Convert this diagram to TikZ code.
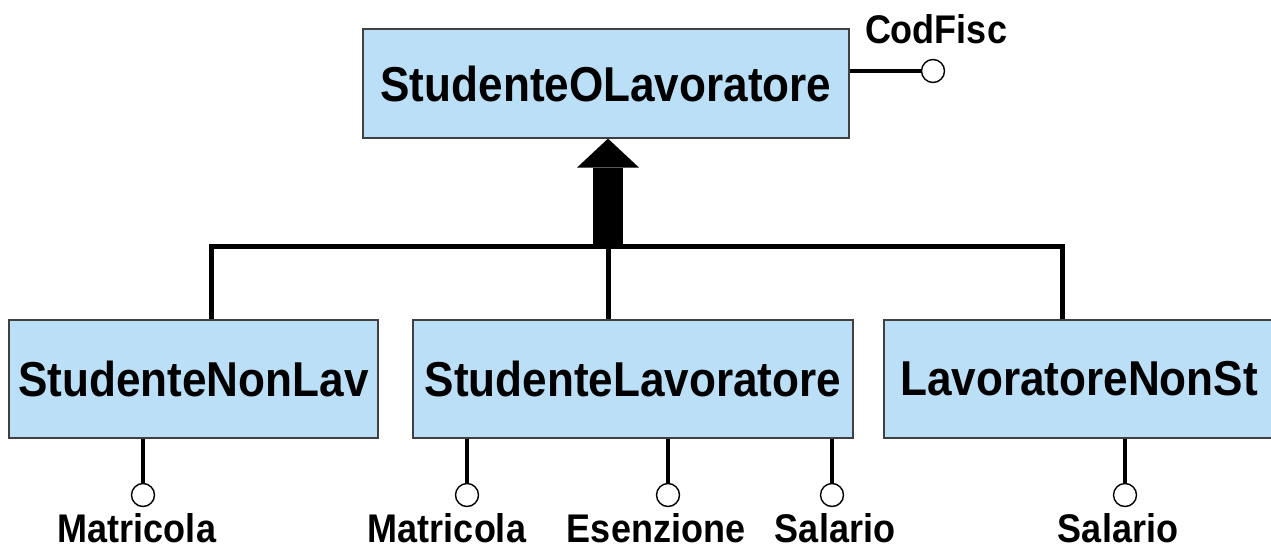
\documentclass[tikz,border=0pt]{standalone}
\usepackage{fontspec}
\setmainfont[FakeStretch=0.9]{Liberation Sans}
\usetikzlibrary{positioning,arrows.meta}
\definecolor{entblue}{HTML}{BBDFF7}

\begin{document}
\begin{tikzpicture}[x=1pt,y=-1pt,
  entity/.style={draw=black!75,line width=1.2pt,fill=entblue,inner sep=0pt,minimum height=118pt,font=\fontsize{49}{54}\selectfont\bfseries},
  attr/.style={circle,draw,fill=white,line width=1.4pt,minimum size=23pt,inner sep=0pt},
  attrname/.style={font=\fontsize{40}{44}\selectfont\bfseries,inner sep=0pt},
  link/.style={line width=4pt}]
\useasboundingbox (0,0) rectangle (1271,546);
\node[entity,minimum width=486pt,minimum height=109pt] (sol) at (606,83.5) {StudenteOLavoratore};
\node[entity,minimum width=369pt] (snl) at (193.5,379) {StudenteNonLav};
\node[entity,minimum width=440pt] (sl) at (633,379) {StudenteLavoratore};
\node[entity,minimum width=390pt] (lns) at (1079,379) {LavoratoreNonSt};
% generalization
\coordinate (j1) at (211,246.5);
\coordinate (j2) at (608,246.5);
\coordinate (j3) at (1062,246.5);
\draw[line width=5pt] (j1 |- snl.north) -- (j1) -- (j3) -- (j3 |- lns.north);
\draw[line width=5pt] (j2) -- (j2 |- sl.north);
\draw[line width=30pt,-{Triangle[width=62pt,length=29pt,line width=0pt]}] (j2) -- (j2 |- sol.south);
% attributes
\node[attr] (cf) at (933,71) {};
\node[attr] (m1) at (143,495) {};
\node[attr] (m2) at (467,495) {};
\node[attr] (es) at (668,495) {};
\node[attr] (s1) at (832,495) {};
\node[attr] (s2) at (1125,495) {};
\draw[link] (sol.east |- cf) -- (cf);
\foreach \a/\b in {m1/snl,m2/sl,es/sl,s1/sl,s2/lns}
  \draw[link] (\a |- \b.south) -- (\a);
\node[attrname,anchor=base] (cftext) at (936,43) {CodFisc};
\node[attrname,anchor=base] (m1text) at (137,542) {Matricola};
\node[attrname,anchor=base] (m2text) at (447,542) {Matricola};
\node[attrname,anchor=base] (estext) at (656,542) {Esenzione};
\node[attrname,anchor=base] (s1text) at (835,542) {Salario};
\node[attrname,anchor=base] (s2text) at (1118,542) {Salario};
\end{tikzpicture}
\end{document}
